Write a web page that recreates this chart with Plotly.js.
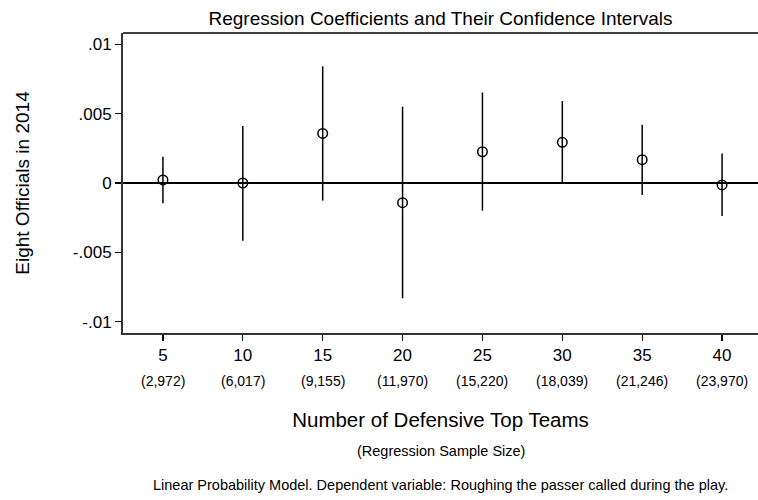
<!DOCTYPE html>
<html>
<head>
<meta charset="utf-8">
<script src="https://cdn.plot.ly/plotly-3.0.1.min.js"></script>
<style>html,body{margin:0;padding:0;background:#fff;}#chart{width:758px;height:500px;}</style>
</head>
<body>
<div id="chart"></div>
<script>
const topTeams = [5, 10, 15, 20, 25, 30, 35, 40];
const sampleSizes = ["(2,972)", "(6,017)", "(9,155)", "(11,970)", "(15,220)", "(18,039)", "(21,246)", "(23,970)"];
const coefficients = [0.00022, 0.0, 0.00357, -0.00142, 0.00225, 0.00293, 0.00168, -0.00014];
const ciUpper = [0.00189, 0.0041, 0.0084, 0.00549, 0.00652, 0.0059, 0.0042, 0.00213];
const ciLower = [-0.00146, -0.00415, -0.00127, -0.0083, -0.00199, 0.0, -0.00086, -0.00237];
const yTickVals = [0.01, 0.005, 0, -0.005, -0.01];
const yTickText = [".01", ".005", "0", "-.005", "-.01"];

const FONT = "Liberation Sans, Arial, sans-serif";

const trace = {
  x: topTeams,
  y: coefficients,
  type: "scatter",
  mode: "markers",
  marker: {symbol: "circle-open", size: 9.5, color: "#000", line: {width: 1.5, color: "#000"}},
  error_y: {
    type: "data",
    symmetric: false,
    array: ciUpper.map((u, i) => u - coefficients[i]),
    arrayminus: coefficients.map((c, i) => c - ciLower[i]),
    width: 0,
    thickness: 1.5,
    color: "#000"
  },
  showlegend: false,
  hoverinfo: "x+y"
};

const annotations = topTeams.map((t, i) => ({
  x: t, xref: "x", y: -0.16, yref: "paper",
  text: sampleSizes[i], showarrow: false,
  font: {family: FONT, size: 14, color: "#000"},
  xanchor: "center", yanchor: "middle"
}));
annotations.push({
  x: 0.5, xref: "paper", y: -0.393, yref: "paper",
  text: "(Regression Sample Size)", showarrow: false,
  font: {family: FONT, size: 14.5, color: "#000"},
  xanchor: "center", yanchor: "middle"
});
annotations.push({
  x: 0.5, xref: "paper", y: -0.507, yref: "paper",
  text: "Linear Probability Model. Dependent variable: Roughing the passer called during the play.",
  showarrow: false,
  font: {family: FONT, size: 14.5, color: "#000"},
  xanchor: "center", yanchor: "middle"
});

const layout = {
  width: 758, height: 500,
  margin: {l: 123, r: 0, t: 33, b: 167, pad: 0},
  paper_bgcolor: "#fff", plot_bgcolor: "#fff",
  font: {family: FONT, color: "#000"},
  title: {
    text: "Regression Coefficients and Their Confidence Intervals",
    font: {family: FONT, size: 19, color: "#000"},
    xref: "paper", x: 0.5, xanchor: "center",
    yref: "container", y: 0.964, yanchor: "middle"
  },
  xaxis: {
    range: [2.5, 42.25],
    tickvals: topTeams,
    ticktext: topTeams.map(String),
    ticks: "outside", ticklen: 6, tickwidth: 1.2, tickcolor: "#000",
    tickfont: {family: FONT, size: 17, color: "#000"},
    showgrid: false, zeroline: false,
    showline: true, linecolor: "#333", linewidth: 2, mirror: false,
    title: {
      text: "Number of Defensive Top Teams",
      font: {family: FONT, size: 20.5, color: "#000"},
      standoff: 48
    },
    automargin: false
  },
  yaxis: {
    range: [-0.0108, 0.0108],
    tickvals: yTickVals,
    ticktext: yTickText,
    ticks: "outside", ticklen: 6, tickwidth: 1.2, tickcolor: "#000",
    tickfont: {family: FONT, size: 17, color: "#000"},
    showgrid: false,
    zeroline: true, zerolinecolor: "#000", zerolinewidth: 1.2,
    showline: true, linecolor: "#333", linewidth: 2,
    title: {
      text: "Eight Officials in 2014",
      font: {family: FONT, size: 19, color: "#000"},
      standoff: 38
    },
    automargin: false
  },
  shapes: [{
    type: "line", xref: "paper", yref: "paper",
    x0: 0, x1: 1, y0: 1, y1: 1,
    line: {color: "#000", width: 1.5}
  }],
  annotations: annotations
};

Plotly.newPlot("chart", [trace], layout, {displayModeBar: false, staticPlot: true});
</script>
</body>
</html>
